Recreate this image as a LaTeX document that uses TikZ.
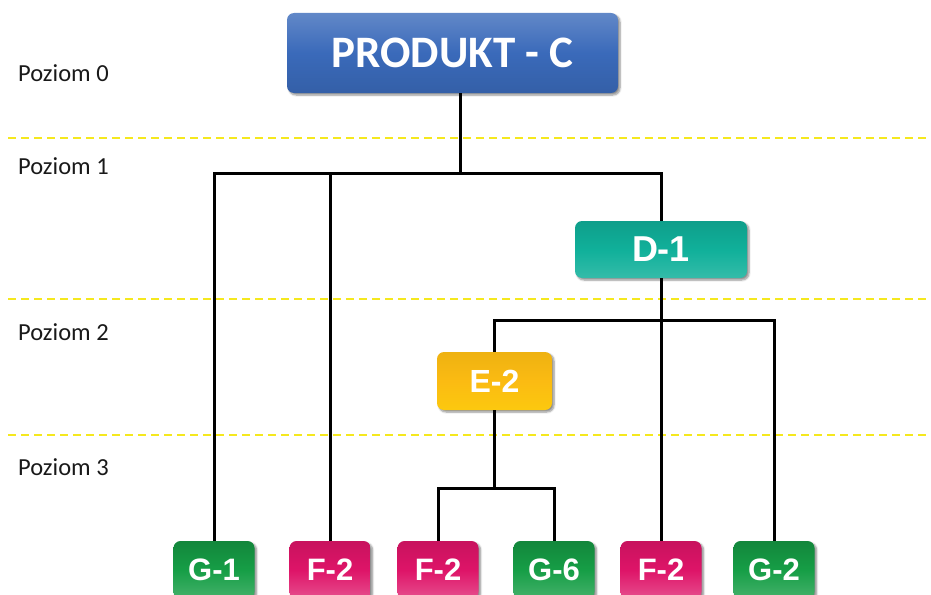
\documentclass[tikz,border=0pt]{standalone}
\usepackage{fontspec}
\setmainfont{Carlito}
\newfontfamily\boxfont{Liberation Sans}
\usetikzlibrary{shadows.blur}
\definecolor{cblue}{RGB}{58,106,186}
\definecolor{cteal}{RGB}{16,176,154}
\definecolor{cyel}{RGB}{251,187,18}
\definecolor{cgreen}{RGB}{22,158,70}
\definecolor{cpink}{RGB}{222,20,104}
\definecolor{cdash}{RGB}{245,232,30}
\tikzset{
  bx/.style={rounded corners=7pt, draw=none, text=white, inner sep=0pt,
    blur shadow={shadow xshift=2pt, shadow yshift=-2pt, shadow blur steps=6, shadow opacity=45}},
  leaf/.style={bx, minimum width=81pt, minimum height=58pt, font=\boxfont\bfseries\fontsize{31}{31}\selectfont},
  gleaf/.style={leaf, top color=cgreen!85!black, bottom color=cgreen!80!white, middle color=cgreen},
  pleaf/.style={leaf, top color=cpink!90!black, bottom color=cpink!75!white, middle color=cpink},
  conn/.style={line width=3pt, black},
  lvl/.style={cdash, line width=1.8pt, dash pattern=on 8pt off 5pt},
  lbl/.style={anchor=west, font=\fontsize{24.5}{24.5}\selectfont, text=black!90, inner sep=0pt}
}
\begin{document}
\begin{tikzpicture}[x=1pt,y=-1pt]
\clip (0,0) rectangle (931,594);
\useasboundingbox (0,0) rectangle (931,594);
% level lines
\draw[lvl] (8,138) -- (931,138);
\draw[lvl] (8,299) -- (931,299);
\draw[lvl] (8,435) -- (931,435);
% level labels
\node[lbl] (p0) at (18,73) {Poziom 0};
\node[lbl] (p1) at (18,166) {Poziom 1};
\node[lbl] (p2) at (18,332) {Poziom 2};
\node[lbl] (p3) at (18,467) {Poziom 3};
% junction coordinates
\coordinate (j1) at (460,173);
\coordinate (j2) at (660,320);
\coordinate (j3) at (494.5,488);
% nodes
\node[bx, minimum width=331pt, minimum height=80pt, top color=cblue!80!white, bottom color=cblue!90!black, middle color=cblue,
  font=\bfseries\fontsize{45}{45}\selectfont] (top) at (452.5,53) {PRODUKT - C};
\node[bx, minimum width=172pt, minimum height=57pt, top color=cteal!90!black, bottom color=cteal!85!white, middle color=cteal,
  font=\boxfont\bfseries\fontsize{36}{36}\selectfont] (d1) at (661,249.5) {D-1};
\node[bx, minimum width=115pt, minimum height=58pt, top color=cyel!95!black, bottom color=cyel!80!yellow, middle color=cyel,
  font=\boxfont\bfseries\fontsize{32}{32}\selectfont] (e2) at (494.5,381) {E-2};
\node[gleaf] (g1) at (214,570) {G-1};
\node[pleaf] (f2a) at (330,570) {F-2};
\node[pleaf] (f2b) at (438,570) {F-2};
\node[gleaf] (g6) at (554,570) {G-6};
\node[pleaf] (f2c) at (661,570) {F-2};
\node[gleaf] (g2) at (774,570) {G-2};
% connectors
\draw[conn] (top.south -| j1) -- (j1);
\draw[conn] (g1.north) |- (j1) -| (d1.north);
\draw[conn] (f2a.north) -- (f2a.north |- j1);
\draw[conn] (d1.south) -- (f2c.north);
\draw[conn] (e2.north) |- (j2) -| (g2.north);
\draw[conn] (e2.south) -- (j3);
\draw[conn] (f2b.north) |- (j3) -| (g6.north);
\end{tikzpicture}
\end{document}
